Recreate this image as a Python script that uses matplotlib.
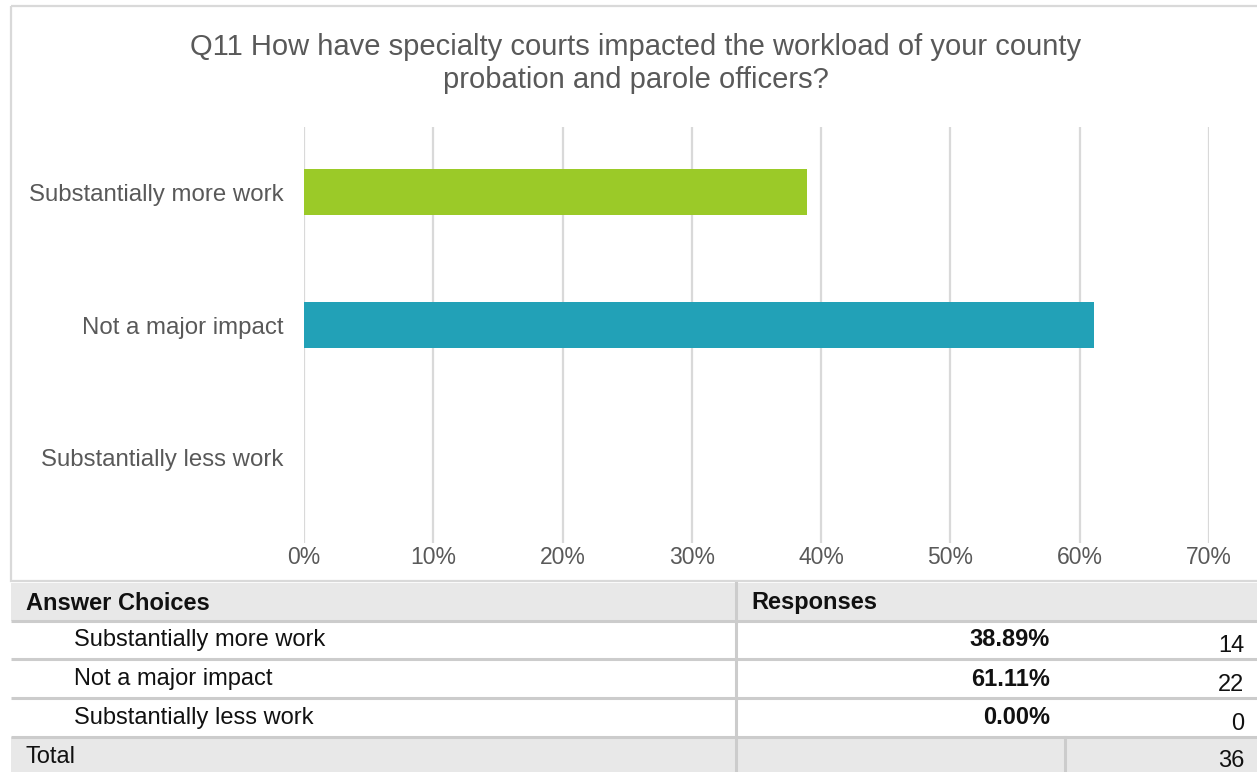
import matplotlib.pyplot as plt
from matplotlib.patches import Rectangle

plt.rcParams['font.family'] = ['Liberation Sans', 'DejaVu Sans']

# survey results
choices = ["Substantially more work", "Not a major impact", "Substantially less work"]
percents = [38.89, 61.11, 0.00]
counts = [14, 22, 0]
total = 36
bar_colors = ["#9bca28", "#22a1b7", "#f7941d"]
x_ticks = [0, 10, 20, 30, 40, 50, 60, 70]
title = "Q11 How have specialty courts impacted the workload of your county\nprobation and parole officers?"

W, H = 1257, 772
fig = plt.figure(figsize=(W / 100, H / 100), dpi=100)

# overlay axes in pixel units for the frame and the table
bg = fig.add_axes([0, 0, 1, 1])
bg.set_xlim(0, W)
bg.set_ylim(H, 0)
bg.axis("off")

grid_c = "#d9d9d9"
line_c = "#cccccc"
fill_c = "#e8e8e8"
text_c = "#595959"
tab_fs = 17

# chart frame
bg.add_patch(Rectangle((11, 6), W, 575, fill=False, edgecolor=grid_c, lw=1.6))
bg.text(636, 63.5, title, ha="center", va="center", fontsize=21, color=text_c,
        linespacing=1.25)

# bar chart
top_px, bot_px = 127, 543
ax = fig.add_axes([304 / W, 1 - bot_px / H, (1209 - 304) / W, (bot_px - top_px) / H])
ypos = list(range(len(choices)))
ax.barh(ypos, percents, height=0.346, color=bar_colors, zorder=3)
ax.set_xlim(0, 70)
ax.set_ylim(2.64, -0.49)
ax.set_xticks(x_ticks)
ax.set_xticklabels([f"{t}%" for t in x_ticks])
ax.set_yticks(ypos)
ax.set_yticklabels(choices)
ax.tick_params(axis="both", length=0, labelcolor=text_c)
ax.tick_params(axis="x", pad=2, labelsize=16.5)
ax.tick_params(axis="y", pad=15, labelsize=17.3)
ax.grid(axis="x", color=grid_c, lw=1.6, zorder=0)
for s in ax.spines.values():
    s.set_visible(False)
ax.patch.set_alpha(0)

# summary table
row_lines = [621, 659, 698, 737]
bg.add_patch(Rectangle((11, 583), W, 38, color=fill_c, lw=0))
bg.add_patch(Rectangle((11, 737), W, 40, color=fill_c, lw=0))
for y in row_lines:
    bg.plot([11, W], [y, y], color=line_c, lw=2.2, solid_capstyle="butt")
bg.plot([736, 736], [583, H], color=line_c, lw=2.2)
bg.plot([1065, 1065], [737, H], color=line_c, lw=2.2)

bg.text(26, 603, "Answer Choices", ha="left", va="center", fontsize=tab_fs,
        fontweight="bold", color="#111111")
bg.text(751, 603, "Responses", ha="left", va="center", fontsize=tab_fs,
        fontweight="bold", color="#111111")

row_mid = [640, 679, 718]
for i, name in enumerate(choices):
    bg.text(74, row_mid[i], name, ha="left", va="center", fontsize=tab_fs, color="#111111")
    bg.text(1050, row_mid[i], f"{percents[i]:.2f}%", ha="right", va="center",
            fontsize=tab_fs, fontweight="bold", color="#111111")
    bg.text(1244, row_mid[i] + 6, str(counts[i]), ha="right", va="center",
            fontsize=tab_fs, color="#111111")

bg.text(26, 757, "Total", ha="left", va="center", fontsize=tab_fs, color="#111111")
bg.text(1244, 761, str(total), ha="right", va="center", fontsize=tab_fs, color="#111111")

fig.savefig("out.png", dpi=100)
